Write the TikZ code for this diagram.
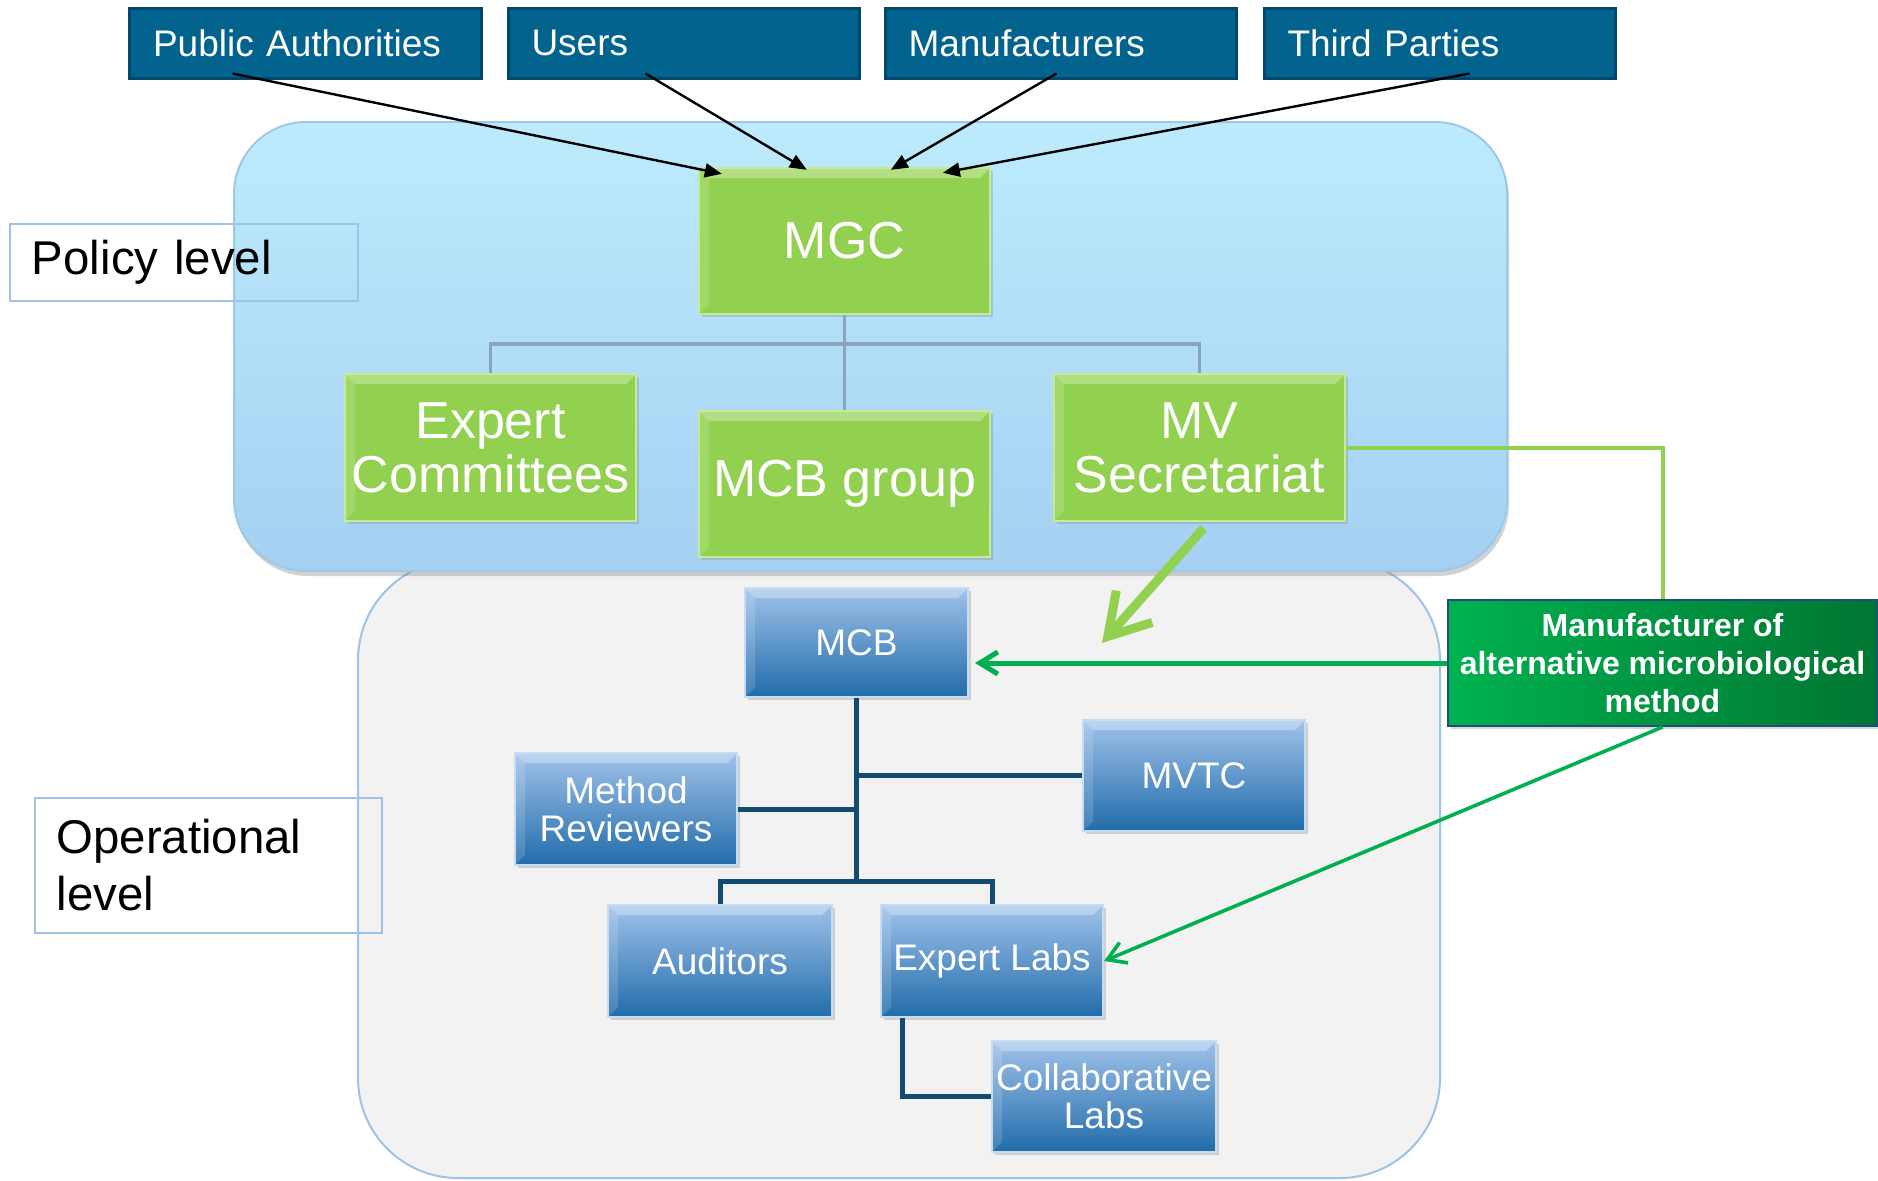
\documentclass[tikz,border=0pt]{standalone}
\usepackage{fontspec}
\setmainfont{Liberation Sans}
\usetikzlibrary{arrows.meta,calc,shadows}
\definecolor{topblue}{RGB}{3,99,143}
\definecolor{topblueedge}{RGB}{2,72,108}
\definecolor{pgreen}{RGB}{146,208,80}
\definecolor{pgreenedge}{RGB}{196,236,150}
\definecolor{poltop}{RGB}{189,235,253}
\definecolor{polbot}{RGB}{165,208,242}
\definecolor{poledge}{RGB}{158,200,232}
\definecolor{opfill}{RGB}{242,242,242}
\definecolor{lvledge}{RGB}{157,195,230}
\definecolor{btop}{RGB}{160,194,234}
\definecolor{bbot}{RGB}{33,108,170}
\definecolor{bedge}{RGB}{196,220,244}
\definecolor{treeblue}{RGB}{17,75,112}
\definecolor{treegray}{RGB}{138,164,188}
\definecolor{mgreenL}{RGB}{0,178,80}
\definecolor{mgreenR}{RGB}{0,118,50}
\definecolor{medge}{RGB}{31,78,121}
\definecolor{agreen}{RGB}{0,176,80}
\tikzset{
  sz/.style 2 args={minimum width=#1*0.5pt, minimum height=#2*0.5pt},
  bevel/.style={path picture={
    \fill[white,opacity=#1] (path picture bounding box.north west) -- (path picture bounding box.north east)
      -- ([xshift=-5pt,yshift=-5pt]path picture bounding box.north east)
      -- ([xshift=5pt,yshift=-5pt]path picture bounding box.north west) -- cycle;
    \fill[white,opacity=#1*0.5] (path picture bounding box.north west) -- ([xshift=5pt,yshift=-5pt]path picture bounding box.north west)
      -- ([xshift=5pt,yshift=5pt]path picture bounding box.south west) -- (path picture bounding box.south west) -- cycle;}},
  topbox/.style={draw=topblueedge, line width=1.5pt, fill=topblue, text=white,
    inner xsep=11pt, inner ysep=0pt, align=left, text width=152pt,
    font=\fontsize{18.5}{22}\selectfont,
    drop shadow={opacity=0.25,shadow xshift=1pt,shadow yshift=-1pt}},
  lvlbox/.style={draw=lvledge, line width=1pt, align=left, inner xsep=10.5pt,
    text width=152pt, font=\fontsize{23.7}{28.5}\selectfont},
  gbox/.style={fill=pgreen, draw=pgreenedge, line width=1.2pt, text=white,
    align=center, inner sep=0pt, font=\fontsize{26}{27}\selectfont, bevel=0.3,
    drop shadow={opacity=0.3,shadow xshift=1.5pt,shadow yshift=-1.5pt}},
  bbox/.style={top color=btop, bottom color=bbot, draw=bedge, line width=1pt,
    text=white, align=center, inner sep=0pt, font=\fontsize{18.5}{19}\selectfont, bevel=0.3,
    drop shadow={opacity=0.3,shadow xshift=1.5pt,shadow yshift=-1.5pt}},
  mbox/.style={left color=mgreenL, right color=mgreenR, draw=medge, line width=1pt,
    text=white, align=center, inner sep=0pt, font=\bfseries\fontsize{16}{19}\selectfont,
    drop shadow={opacity=0.3,shadow xshift=1.5pt,shadow yshift=-1.5pt}},
  blackarrow/.style={draw=black, line width=1.2pt, -{Triangle[length=8.5pt,width=7pt]}},
  graylink/.style={draw=treegray, line width=1.8pt},
  bluelink/.style={draw=treeblue, line width=2.5pt},
  bigarrow/.style={draw=pgreen, line width=4.5pt, -{Straight Barb[length=20pt,width=24pt]}},
  mgarrow/.style={draw=agreen, -{Straight Barb[length=9pt,width=11pt]}},
  sidelink/.style={draw=pgreen, line width=2pt}
}
\begin{document}
\begin{tikzpicture}[x=0.5pt,y=-0.5pt]
\useasboundingbox (0,0) rectangle (1878,1180);
\fill[white] (0,0) rectangle (1878,1180);

% background regions
\node[fill=opfill, draw=lvledge, line width=1pt, rounded corners=50pt, sz={1082}{618}] (oper) at (899,869) {};
\node[top color=poltop, bottom color=polbot, draw=poledge, line width=1pt, rounded corners=36pt, sz={1273}{449},
  drop shadow={opacity=0.35,shadow xshift=1pt,shadow yshift=-2.5pt}] (policy) at (870.5,346.5) {};

% level labels
\node[lvlbox, sz={348}{77}] (pollabel) at (184,262) {Policy level};
\node[lvlbox, sz={347}{135}] (oplabel) at (208.5,865.5) {Operational\\level};

% top boxes
\node[topbox, sz={352}{70}] (pa) at (305,43) {Public Authorities};
\node[topbox, sz={351}{70}] (us) at (683.5,43) {Users};
\node[topbox, sz={351}{70}] (mf) at (1060.5,43) {Manufacturers};
\node[topbox, sz={351}{70}] (tp) at (1439.5,43) {Third Parties};

% policy tree
\coordinate (gj) at (844.5,344);
\node[gbox, sz={291}{146}] (mgc) at (844.5,241) {MGC};
\node[gbox, sz={291}{147}] (ec) at (490.5,447.5) {Expert\\Committees};
\node[gbox, sz={291}{146}] (mcbg) at (844.5,484) {MCB group};
\node[gbox, sz={291}{147}] (mvs) at (1199.5,447.5) {MV\\Secretariat};
\draw[graylink] (mgc.south) -- (gj);
\draw[graylink] (gj) -| (ec.north);
\draw[graylink] (gj) -| (mvs.north);
\draw[graylink] (gj) -- (mcbg.north);

% arrows into MGC
\draw[blackarrow] ($(pa.south west)+(105,-6)$) -- ($(mgc.north west)+(24,7)$);
\draw[blackarrow] ($(us.south west)+(139,-6)$) -- ($(mgc.north west)+(109,3)$);
\draw[blackarrow] ($(mf.south west)+(173,-6)$) -- ($(mgc.north west)+(193,3)$);
\draw[blackarrow] ($(tp.south west)+(207,-6)$) -- ($(mgc.north west)+(245,6)$);

% operational tree
\node[bbox, sz={223}{109}] (mcb) at (856.5,642.5) {MCB};
\node[bbox, sz={222}{111}] (mvtc) at (1194,775.5) {MVTC};
\node[bbox, sz={222}{112}] (mr) at (626,809) {Method\\Reviewers};
\node[bbox, sz={224}{112}] (aud) at (720,961) {Auditors};
\node[bbox, sz={222}{112}] (el) at (992,961) {Expert Labs};
\node[bbox, sz={224}{111}] (cl) at (1104,1096.5) {Collaborative\\Labs};
\coordinate (bj) at (856.5,881);
\draw[bluelink] (mcb.south) -- (bj);
\draw[bluelink] (mcb.south |- mvtc.west) -- (mvtc.west);
\draw[bluelink] (mr.east) -- (mcb.south |- mr.east);
\draw[bluelink] (aud.north) |- (bj) -| (el.north);
\draw[bluelink] ($(el.south west)+(22,0)$) |- (cl.west);

% manufacturer box
\node[mbox, sz={429}{126}] (manu) at (1662.5,663) {Manufacturer of\\alternative microbiological\\method};
\draw[sidelink] (mvs.east) -| (manu.north);
\draw[mgarrow, line width=2.5pt] (manu.west) -- ($(mcb.east |- manu.west)+(6,0)$);
\draw[mgarrow, line width=1.8pt] (manu.south) -- (el.east);

% big green arrow
\coordinate (gtip) at (1102,643);
\draw[bigarrow] ($(mvs.south)+(4,6)$) -- (gtip);
\end{tikzpicture}
\end{document}
